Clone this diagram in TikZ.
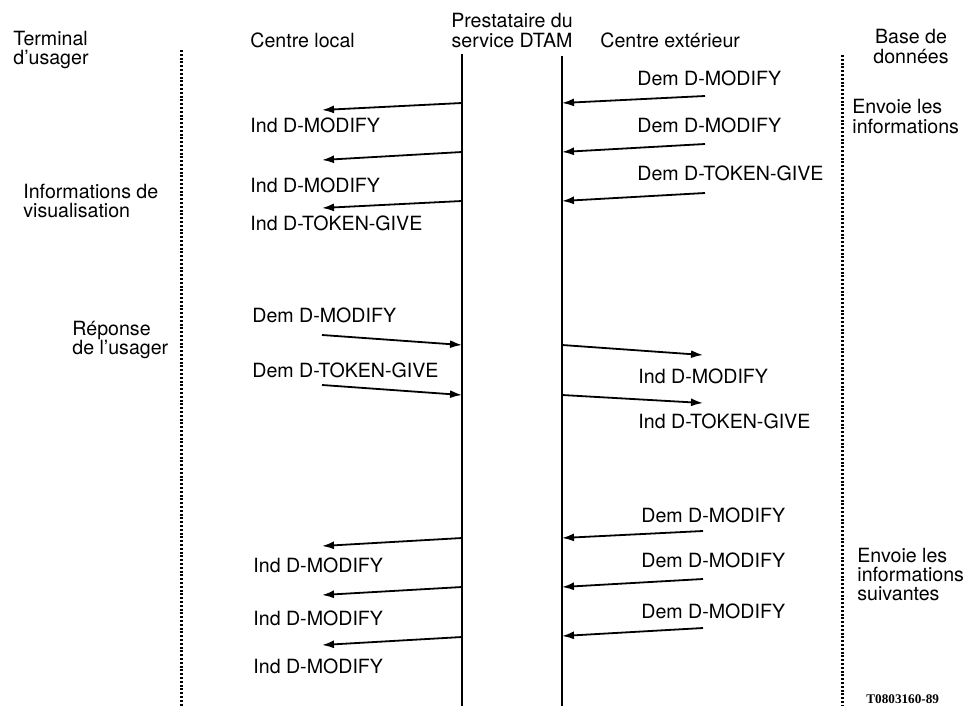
\documentclass[tikz,border=0pt]{standalone}
\usepackage{fontspec}
\setmainfont{TeX Gyre Heros}
\newfontfamily\refnofont{Liberation Serif}
\usetikzlibrary{arrows.meta}

\tikzset{
  msg/.style={line width=0.9pt,-{Latex[length=6pt,width=4pt]}},
  life/.style={line width=1.1pt},
  border/.style={line width=1.5pt,dash pattern=on 1pt off 0.9pt},
  lbl/.style={anchor=base west,inner sep=0pt,font=\fontsize{9.8}{9.5}\selectfont},
  side/.style={lbl,align=left}
}

\begin{document}
\begin{tikzpicture}[x=0.5pt,y=-0.5pt]
    \useasboundingbox (0,0) rectangle (977,706);
    % column headings
    \node[side] (term) at (13,65) {Terminal\\d'usager};
    \node[lbl] (loc) at (250,47) {Centre local};
    \node[lbl,align=center,anchor=base] (dtam) at (512,47) {Prestataire du\\service DTAM};
    \node[lbl] (ext) at (600,47) {Centre extérieur};
    \node[lbl,align=center,anchor=base] (bdd) at (911,63) {Base de\\données};
    % lifelines
    \draw[border] (181,50) coordinate (ut0) -- (181,706) coordinate (ut1);
    \draw[life] (462,54) coordinate (pl0) -- (462,706) coordinate (pl1);
    \draw[life] (562,56) coordinate (pe0) -- (562,706) coordinate (pe1);
    \draw[border] (842,55) coordinate (bd0) -- (842,706) coordinate (bd1);
    % side remarks
    \node[side] (visu) at (23,217) {Informations de\\visualisation};
    \node[side] (rep) at (72,354) {Réponse\\de l'usager};
    \node[side] (env1) at (852,133) {Envoie les\\informations};
    \node[side] (env2) at (857,600) {Envoie les\\informations\\suivantes};
    \node[anchor=base west,inner sep=0pt,font=\refnofont\fontsize{6.6}{7}\selectfont\bfseries]
        (refno) at (866,703) {T0803160-89};
    % first exchange: centre exterieur -> provider -> centre local
    \foreach \ya/\yb/\yl/\txt [count=\i] in {96/103/85/Dem D-MODIFY,144/152/132/Dem D-MODIFY,193/201/180/Dem D-TOKEN-GIVE}{
        \coordinate (ea\i) at (705,\ya);
        \coordinate (pea\i) at (562,\yb);
        \draw[msg] (ea\i) -- (pea\i);
        \node[lbl] (dema\i) at (637,\yl) {\txt};
    }
    \foreach \ya/\yb/\yl/\txt [count=\i] in {103/110/132/Ind D-MODIFY,152/160/192/Ind D-MODIFY,201/208/230/Ind D-TOKEN-GIVE}{
        \coordinate (pla\i) at (462,\ya);
        \coordinate (la\i) at (322,\yb);
        \draw[msg] (pla\i) -- (la\i);
        \node[lbl] (inda\i) at (250,\yl) {\txt};
    }
    % user response: centre local -> provider -> centre exterieur
    \foreach \ya/\yb/\yl/\txt [count=\i] in {335/345/322/Dem D-MODIFY,385/395/377/Dem D-TOKEN-GIVE}{
        \coordinate (lb\i) at (322,\ya);
        \coordinate (plb\i) at (462,\yb);
        \draw[msg] (lb\i) -- (plb\i);
        \node[lbl] (demb\i) at (252,\yl) {\txt};
    }
    \foreach \ya/\yb/\yl/\txt [count=\i] in {345/355/383/Ind D-MODIFY,395/403/428/Ind D-TOKEN-GIVE}{
        \coordinate (peb\i) at (562,\ya);
        \coordinate (eb\i) at (703,\yb);
        \draw[msg] (peb\i) -- (eb\i);
        \node[lbl] (indb\i) at (638,\yl) {\txt};
    }
    % following information
    \foreach \ya/\yb/\yl [count=\i] in {531/538/522,579/587/567,628/636/618}{
        \coordinate (ec\i) at (703,\ya);
        \coordinate (pec\i) at (562,\yb);
        \draw[msg] (ec\i) -- (pec\i);
        \node[lbl] (demc\i) at (641,\yl) {Dem D-MODIFY};
    }
    \foreach \ya/\yb/\yl [count=\i] in {538/546/572,587/595/625,637/645/673}{
        \coordinate (plc\i) at (462,\ya);
        \coordinate (lc\i) at (322,\yb);
        \draw[msg] (plc\i) -- (lc\i);
        \node[lbl] (indc\i) at (253,\yl) {Ind D-MODIFY};
    }
\end{tikzpicture}
\end{document}
